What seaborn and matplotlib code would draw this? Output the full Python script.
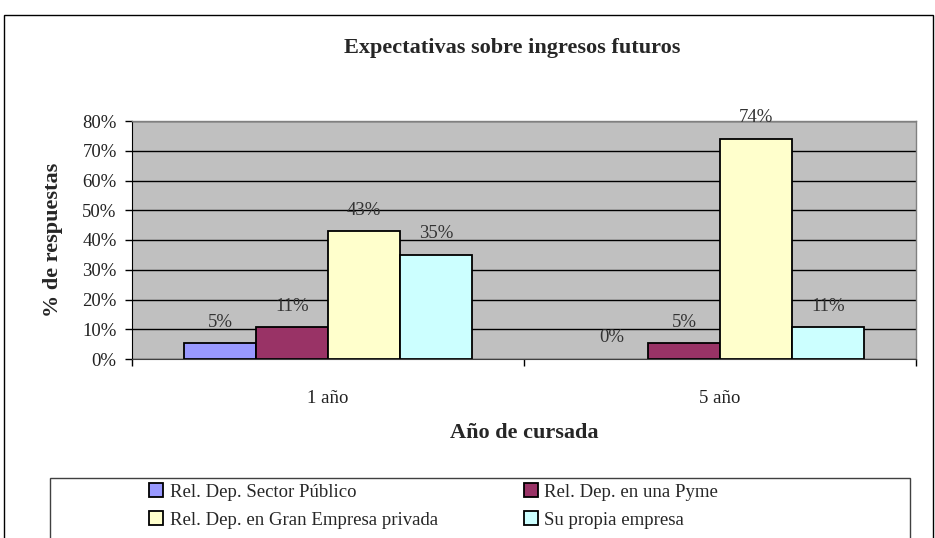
import matplotlib
matplotlib.use('Agg')
import matplotlib.pyplot as plt
from matplotlib.patches import Rectangle
from matplotlib.lines import Line2D
from matplotlib.ticker import PercentFormatter, FixedLocator
import seaborn as sns
import pandas as pd

# data
years = ['1 año', '5 año']
categories = ['Rel. Dep. Sector Público', 'Rel. Dep. en una Pyme',
              'Rel. Dep. en Gran Empresa privada', 'Su propia empresa']
values_1 = [0.053, 0.106, 0.43, 0.35]
values_5 = [0.0, 0.053, 0.74, 0.106]
colors = ['#9999FF', '#993366', '#FFFFCC', '#CCFFFF']

df = pd.DataFrame({
    'anio': [years[0]] * 4 + [years[1]] * 4,
    'tipo': categories * 2,
    'valor': values_1 + values_5,
})

sns.set_style('white')
plt.rcParams['font.family'] = ['Liberation Serif', 'DejaVu Serif']

W, H = 935, 538
fig = plt.figure(figsize=(W / 100, H / 100), dpi=100)
ax = fig.add_axes([132 / W, (H - 359) / H, (916 - 132) / W, (359 - 121) / H])
ax.set_facecolor('#C0C0C0')

sns.barplot(data=df, x='anio', y='valor', hue='tipo', hue_order=categories,
            palette=colors, edgecolor='black', linewidth=1.3, width=0.735,
            gap=0, saturation=1, ax=ax, legend=False, errorbar=None)

# Excel draws nothing for a 0% bar
for p in ax.patches:
    if p.get_height() == 0:
        p.set_linewidth(0)

for cont in ax.containers:
    ax.bar_label(cont, labels=[f'{v * 100:.0f}%' for v in cont.datavalues],
                 padding=9, fontsize=13.5, color='#333333')

ax.set_ylim(0, 0.8)
ax.set_xlim(-0.5, 1.5)
ax.yaxis.set_major_locator(FixedLocator([i / 10 for i in range(9)]))
ax.yaxis.set_major_formatter(PercentFormatter(1.0, decimals=0))
ax.grid(axis='y', color='black', linewidth=1)
ax.set_axisbelow(True)

ax.tick_params(axis='y', which='major', left=True, length=5, width=1,
               color='black', labelsize=13.5, pad=6, labelcolor='#222222')
ax.tick_params(axis='x', which='major', length=0, labelsize=13.5, pad=22,
               labelcolor='#222222')
ax.xaxis.set_minor_locator(FixedLocator([-0.5, 0.5, 1.5]))
ax.tick_params(axis='x', which='minor', bottom=True, length=5, width=1,
               color='black')

for s in ['top', 'right']:
    ax.spines[s].set_color('#808080')
    ax.spines[s].set_linewidth(1)
ax.spines['left'].set_color('black')
ax.spines['bottom'].set_color('#404040')
for s in ax.spines.values():
    s.set_visible(True)

ax.set_xlabel('Año de cursada', fontsize=16, fontweight='bold', labelpad=12)
ax.set_ylabel('% de respuestas', fontsize=16, fontweight='bold', labelpad=14)
fig.text(512 / W, 1 - 48 / H, 'Expectativas sobre ingresos futuros',
         ha='center', va='center', fontsize=16, fontweight='bold')

# outer chart frame and legend frame (both run past the image bottom)
fig.patches.append(Rectangle((4 / W, -0.1), (933 - 4) / W, 1.1 - 15 / H,
                             transform=fig.transFigure, fill=False,
                             edgecolor='black', linewidth=1))
fig.patches.append(Rectangle((50 / W, -0.1), (910 - 50) / W, 0.1 + (H - 478) / H,
                             transform=fig.transFigure, fill=False,
                             edgecolor='#404040', linewidth=1))

handles = [Line2D([], [], marker='s', linestyle='none', markersize=10,
                  markerfacecolor=c, markeredgecolor='black', markeredgewidth=1.3)
           for c in colors]
order = [0, 2, 1, 3]  # legend fills column by column
fig.legend([handles[i] for i in order], [categories[i] for i in order],
           ncol=2, frameon=False, fontsize=13.5,
           loc='upper left', bbox_to_anchor=(132 / W, 1 - 467 / H),
           handletextpad=0.3, columnspacing=4.6, labelspacing=0.58,
           handlelength=0.8)

fig.savefig('out.png', dpi=100)
